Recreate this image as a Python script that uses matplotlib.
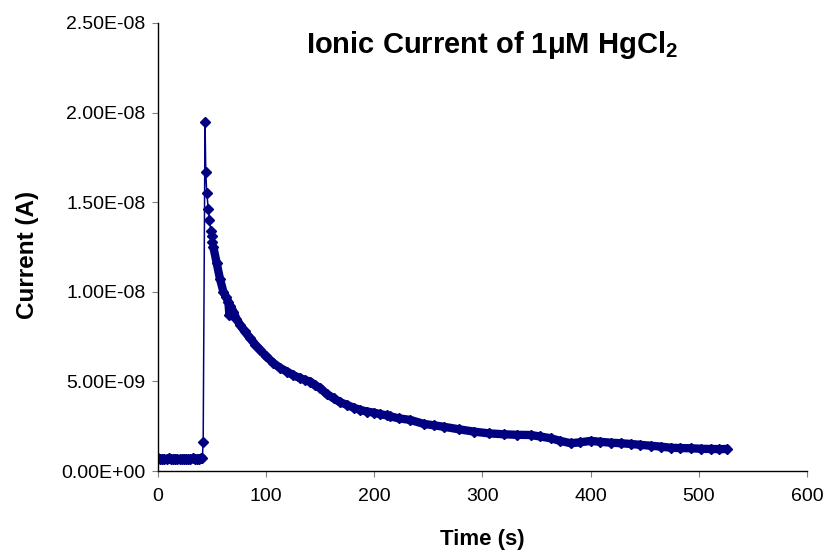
import matplotlib.pyplot as plt
from matplotlib.ticker import FuncFormatter

plt.rcParams["font.family"] = ["Liberation Sans", "DejaVu Sans"]
plt.rcParams["mathtext.fontset"] = "custom"
plt.rcParams["mathtext.bf"] = "Liberation Sans:bold"
plt.rcParams["mathtext.rm"] = "Liberation Sans"

# time in seconds, current in nA (x1e-9 A)
time_s = [
    0, 2, 4, 6, 8, 10, 12, 14, 16, 18, 20, 22, 24, 26, 28, 30, 32, 34, 36, 38, 40, 41,
    41.8, 43.5, 44.2, 45.1, 46.6, 47.5, 48.8, 49.7, 50.3, 51.2, 54.3, 57.4, 60.5, 63,
    65.1, 66, 67, 69.7, 72.5, 75.9, 80, 85.2, 90, 94.4, 100, 106.8, 113, 119.2, 125,
    131.5, 136, 140.7, 145, 150, 156, 162.3, 168, 174.7, 181, 187, 193, 199.4, 205,
    211.8, 214.8, 222.5, 233.3, 245.7, 255, 264.2, 278, 292, 306, 319.8, 332, 344.4,
    353, 362.9, 372, 381.5, 390, 400, 409, 418.5, 428, 437, 446, 455.6, 465, 474, 483,
    492.6, 502, 511, 519, 526,
]
current_na = [
    0.70, 0.68, 0.69, 0.66, 0.68, 0.70, 0.67, 0.66, 0.69, 0.68, 0.66, 0.67, 0.69, 0.68,
    0.66, 0.67, 0.70, 0.68, 0.67, 0.69, 0.71, 0.72,
    1.60, 19.5, 16.7, 15.5, 14.6, 14.0, 13.4, 13.1, 12.8, 12.5, 11.6, 10.7, 10.0, 9.7,
    9.45, 8.72, 9.2, 8.9, 8.5, 8.16, 7.8, 7.41, 7.05, 6.76, 6.4, 6.02, 5.75, 5.55, 5.35,
    5.18, 5.08, 4.99, 4.8, 4.62, 4.3, 4.06, 3.85, 3.69, 3.53, 3.41, 3.32, 3.26, 3.18,
    3.10, 3.05, 2.94, 2.85, 2.63, 2.55, 2.47, 2.33, 2.20, 2.10, 2.05, 2.02, 2.01,
    1.93, 1.83, 1.68, 1.55, 1.60, 1.68, 1.63, 1.58, 1.55, 1.51, 1.46, 1.41, 1.36, 1.30, 1.28,
    1.27, 1.24, 1.23, 1.22, 1.23,
]
current_a = [v * 1e-9 for v in current_na]

x_ticks = [0, 100, 200, 300, 400, 500, 600]
y_ticks = [0, 5e-9, 1e-8, 1.5e-8, 2e-8, 2.5e-8]

NAVY = "#000080"


def sci_label(v, _pos):
    return f"{v:.2E}"


def main() -> None:
    fig = plt.figure(figsize=(8.24, 5.59), dpi=100)
    ax = fig.add_axes([0.1917, 0.1574, 0.7877, 0.8015])

    # dense runs of samples show as a solid band
    base_end = 22
    decay_start = 31
    ax.plot(time_s[:base_end], current_a[:base_end], color=NAVY, linewidth=6,
            solid_capstyle="round")
    ax.plot(time_s[decay_start:], current_a[decay_start:], color=NAVY, linewidth=6,
            solid_capstyle="round")
    ax.plot(time_s, current_a, color=NAVY, linewidth=1.1, marker="D",
            markersize=5, markerfacecolor=NAVY, markeredgecolor=NAVY)

    ax.set_xlim(0, 600)
    ax.set_ylim(0, 2.5e-8)
    ax.set_xticks(x_ticks)
    ax.set_yticks(y_ticks)
    ax.yaxis.set_major_formatter(FuncFormatter(sci_label))

    ax.spines["top"].set_visible(False)
    ax.spines["right"].set_visible(False)
    ax.spines["left"].set_linewidth(1.0)
    ax.spines["bottom"].set_linewidth(1.0)
    ax.tick_params(direction="out", length=4, width=0.8, color="#808080", labelsize=14)
    ax.tick_params(axis="x", pad=8)
    ax.tick_params(axis="y", pad=5)

    ax.set_xlabel("Time (s)", fontsize=16, fontweight="bold")
    ax.set_ylabel("Current (A)", fontsize=17.5, fontweight="bold")
    ax.xaxis.set_label_coords(0.5, -0.13)
    ax.yaxis.set_label_coords(-0.183, 0.482)
    ax.text(0.515, 0.951, r"Ionic Current of 1μM HgCl$_\mathbf{2}$",
            transform=ax.transAxes, ha="center", va="center",
            fontsize=21, fontweight="bold")

    fig.savefig("out.png", dpi=100)
    plt.close(fig)


if __name__ == "__main__":
    main()
